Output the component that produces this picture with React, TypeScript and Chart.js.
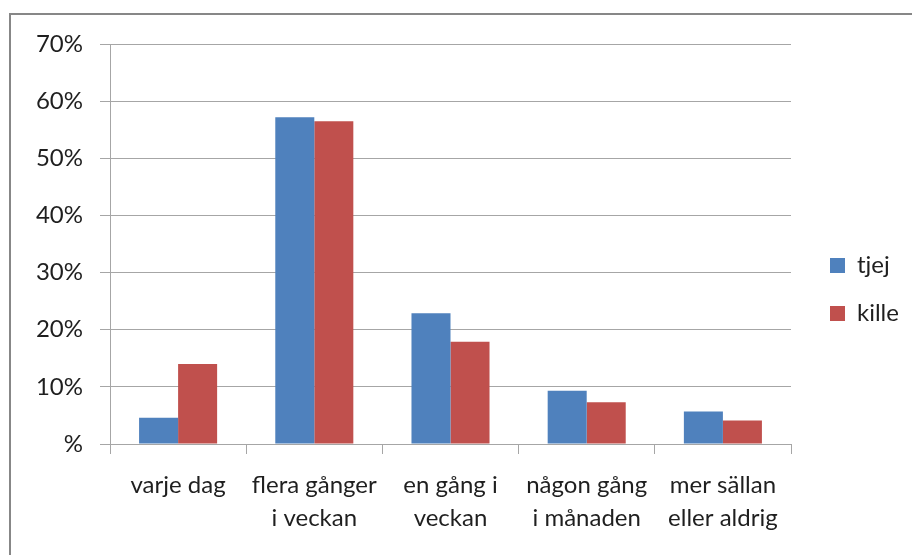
import React, { useEffect, useRef } from 'react';
import { Chart, registerables } from 'chart.js';

Chart.register(...registerables);

const categories: (string | string[])[] = [
  'varje dag',
  ['flera gånger', 'i veckan'],
  ['en gång i', 'veckan'],
  ['någon gång', 'i månaden'],
  ['mer sällan', 'eller aldrig'],
];
const tjejValues = [4.6, 57.2, 22.9, 9.3, 5.7];
const killeValues = [14.0, 56.5, 17.9, 7.3, 4.1];
const seriesNames = ['tjej', 'kille'];
const yMax = 70;
const yStep = 10;

const FONT = 'Lato, "Open Sans", sans-serif';
const GRID = '#a6a6a6';
const TEXT = '#1f1f1f';

const framePlugin = {
  id: 'frame',
  beforeDraw(chart: any) {
    const { ctx, width, height } = chart;
    ctx.save();
    ctx.fillStyle = '#ffffff';
    ctx.fillRect(0, 0, width, height);
    ctx.strokeStyle = '#878787';
    ctx.lineWidth = 2;
    ctx.strokeRect(10, 14, width + 20, height + 20);
    ctx.restore();
  },
};

const legendNudge = {
  id: 'legendNudge',
  afterLayout(chart: any) {
    const lg = chart.legend;
    if (!lg) return;
    const pad = lg.options.labels.padding;
    const dx = 830 - (lg.left + pad);
    lg.left += dx;
    lg.right += dx;
  },
};

export default function App() {
  const ref = useRef<HTMLCanvasElement | null>(null);
  useEffect(() => {
    if (!ref.current) return;
    const chart = new Chart(ref.current, {
      type: 'bar',
      data: {
        labels: categories,
        datasets: [
          {
            label: seriesNames[0],
            data: tjejValues,
            backgroundColor: '#4f81bd',
            borderWidth: 0,
          },
          {
            label: seriesNames[1],
            data: killeValues,
            backgroundColor: '#c0504d',
            borderWidth: 0,
          },
        ],
      },
      options: {
        responsive: false,
        animation: false,
        devicePixelRatio: 1,
        layout: { padding: { top: 44, left: 0, right: 26, bottom: 20 } },
        datasets: {
          bar: { categoryPercentage: 0.573, barPercentage: 1 },
        },
        scales: {
          x: {
            offset: true,
            grid: {
              offset: true,
              drawOnChartArea: false,
              drawTicks: true,
              tickLength: 10,
              color: GRID,
            },
            border: { display: true, color: GRID },
            ticks: {
              color: TEXT,
              padding: 15,
              maxRotation: 0,
              autoSkip: false,
              font: { family: FONT, size: 24, lineHeight: 1.37 },
            },
            afterFit(scale: any) {
              scale.height = 91;
            },
          },
          y: {
            min: 0,
            max: yMax,
            ticks: {
              stepSize: yStep,
              color: TEXT,
              padding: 17,
              font: { family: FONT, size: 24 },
              callback: (v: any) => (Number(v) === 0 ? '%' : v + '%'),
            },
            grid: { color: GRID, tickLength: 10, drawTicks: true },
            border: { display: true, color: GRID },
            afterFit(scale: any) {
              scale.width = 110;
            },
          },
        },
        plugins: {
          legend: {
            position: 'right',
            maxWidth: 95,
            labels: {
              boxWidth: 15,
              boxHeight: 15,
              padding: 24,
              color: TEXT,
              font: { family: FONT, size: 24 },
            },
          },
          tooltip: { enabled: false },
        },
      },
      plugins: [framePlugin, legendNudge],
    } as any);
    return () => chart.destroy();
  }, []);

  return (
    <canvas
      ref={ref}
      width={912}
      height={555}
      style={{ position: 'fixed', left: 0, top: 0, width: 912, height: 555 }}
    />
  );
}
